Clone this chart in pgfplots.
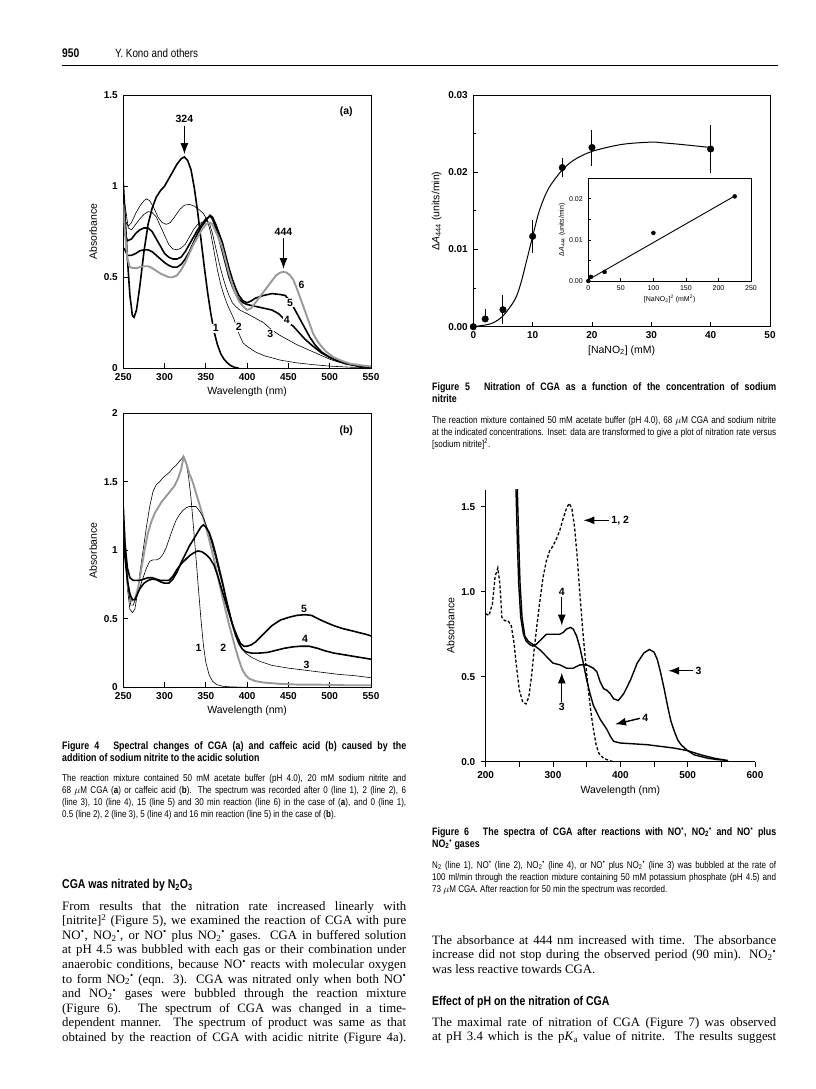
\documentclass[border=0pt]{standalone}
\usepackage{fontspec}
\setmainfont{Liberation Serif}
\newfontfamily\capfont[FakeStretch=0.82]{Liberation Sans}
\newfontfamily\chartfont{Liberation Sans}
\usepackage{pgfplots}
\pgfplotsset{compat=1.18}
\usetikzlibrary{arrows.meta}

\newcommand\rad{\textsuperscript{\kern0.03em•}}
\newcommand\NOt{NO\textsubscript{2}\textsuperscript{•}}
\newcommand\capT{\capfont\bfseries\fontsize{10.8}{12}\selectfont}
\newcommand\capR{\capfont\fontsize{9.8}{11}\selectfont}
\newcommand\bodyF{\rmfamily\fontsize{12.8}{14.6}\selectfont}
\newcommand\headF{\capfont\bfseries\fontsize{12.8}{14}\selectfont}
\newcommand\jl[4]{\node[anchor=base west,inner sep=0pt,font=#1] at (#2pt,-#3pt) {\makebox[344pt][s]{#4}};}
\newcommand\nl[4]{\node[anchor=base west,inner sep=0pt,font=#1] at (#2pt,-#3pt) {#4};}

\pgfplotsset{
  page/.style={scale only axis, tick pos=left, tick align=inside, major tick length=5pt,
    axis line style={line width=0.9pt}, every tick/.style={line width=0.9pt, black},
    tick label style={font=\chartfont\bfseries\fontsize{10}{12}\selectfont},
    xticklabel style={yshift=-1.5pt}, yticklabel style={xshift=-2pt},
    label style={font=\chartfont\fontsize{10.5}{12}\selectfont},
    /pgf/number format/assume math mode=true},
  thinL/.style={black, line width=0.6pt},
  thickL/.style={black, line width=1.6pt},
  grayL/.style={black!40, line width=1.9pt},
}
\tikzset{
  lab/.style={font=\chartfont\bfseries\fontsize{10.5}{12}\selectfont, fill=white, inner sep=1pt},
  labn/.style={font=\chartfont\bfseries\fontsize{10.5}{12}\selectfont, inner sep=1pt},
  arr/.style={line width=1.4pt, -{Latex[length=11pt,width=8pt]}},
}

\begin{document}
\begin{tikzpicture}
\path[fill=white, use as bounding box] (0pt,0pt) rectangle (816pt,-1089pt);

% ---------- header ----------
\nl{\capfont\bfseries\fontsize{12.5}{14}\selectfont}{62}{58}{950}
\nl{\capfont\fontsize{12}{14}\selectfont}{115}{58}{Y. Kono and others}
\draw[line width=0.8pt] (62pt,-65.5pt) -- (778pt,-65.5pt);

% ---------- Figure 4a ----------
\begin{axis}[page, at={(123.3pt,-368.3pt)}, anchor=south west, width=247.7pt, height=273.3pt,
  xmin=250, xmax=550, ymin=0, ymax=1.5, xtick={250,300,...,550}, ytick={0,0.5,1,1.5},
  xlabel={Wavelength (nm)}, ylabel={Absorbance}]
\addplot[thickL] coordinates {(250,1.02)(252,0.85)(255,0.6)(258,0.40)(261,0.29)(263,0.28)(266,0.32)(270,0.45)(275,0.64)(280,0.79)(285,0.88)(290,0.94)(295,0.975)(300,1.0)(305,1.04)(310,1.08)(315,1.12)(320,1.15)(324,1.16)(328,1.14)(332,1.09)(336,0.99)(340,0.86)(344,0.71)(348,0.56)(352,0.42)(356,0.30)(360,0.20)(364,0.13)(368,0.08)(372,0.05)(376,0.03)(380,0.015)(385,0.005)(390,0)};
\addplot[thinL] coordinates {(251,0.82)(256,0.78)(260,0.80)(265,0.85)(270,0.89)(275,0.92)(278,0.93)(282,0.92)(287,0.88)(292,0.83)(297,0.80)(302,0.79)(307,0.80)(312,0.83)(318,0.87)(324,0.895)(330,0.90)(336,0.89)(342,0.87)(347,0.85)(352,0.81)(356,0.74)(360,0.64)(364,0.54)(368,0.46)(372,0.40)(376,0.35)(380,0.31)(384,0.27)(390,0.19)(395,0.14)(400,0.12)(410,0.09)(420,0.07)(440,0.045)(460,0.03)(480,0.02)(500,0.012)(525,0.006)(550,0.003)};
\addplot[thinL] coordinates {(252,0.90)(256,0.77)(260,0.76)(265,0.79)(270,0.82)(275,0.845)(280,0.86)(285,0.855)(290,0.83)(295,0.78)(300,0.73)(305,0.68)(310,0.655)(315,0.65)(320,0.66)(325,0.68)(330,0.72)(335,0.76)(340,0.79)(345,0.80)(350,0.81)(354,0.80)(358,0.74)(362,0.66)(366,0.58)(370,0.51)(374,0.45)(378,0.40)(382,0.36)(386,0.34)(391,0.32)(400,0.30)(410,0.275)(420,0.25)(430,0.21)(440,0.18)(450,0.155)(460,0.13)(470,0.11)(480,0.09)(490,0.07)(500,0.05)(510,0.035)(520,0.025)(535,0.012)(550,0.006)};
\addplot[thickL] coordinates {(251,0.75)(255,0.70)(260,0.71)(265,0.74)(270,0.76)(275,0.77)(280,0.77)(285,0.75)(290,0.71)(295,0.67)(300,0.63)(305,0.61)(310,0.60)(315,0.60)(320,0.61)(325,0.64)(330,0.68)(335,0.72)(340,0.76)(345,0.79)(350,0.82)(355,0.835)(358,0.82)(362,0.77)(366,0.71)(370,0.64)(374,0.57)(378,0.50)(382,0.45)(386,0.41)(390,0.38)(395,0.36)(400,0.35)(410,0.34)(420,0.33)(430,0.32)(438,0.30)(445,0.27)(450,0.25)(456,0.23)(462,0.20)(470,0.16)(480,0.12)(490,0.085)(500,0.06)(510,0.04)(520,0.025)(535,0.012)(550,0.006)};
\addplot[thickL] coordinates {(251,0.66)(255,0.62)(260,0.62)(265,0.63)(270,0.645)(275,0.65)(280,0.65)(285,0.64)(290,0.62)(295,0.60)(300,0.58)(305,0.565)(310,0.555)(315,0.555)(320,0.57)(325,0.60)(330,0.64)(335,0.69)(340,0.74)(345,0.78)(350,0.81)(355,0.84)(358,0.83)(362,0.79)(366,0.74)(370,0.69)(374,0.62)(378,0.55)(382,0.49)(386,0.44)(390,0.40)(395,0.37)(400,0.36)(405,0.37)(410,0.385)(420,0.40)(430,0.41)(440,0.405)(446,0.40)(452,0.37)(458,0.32)(464,0.27)(470,0.22)(476,0.17)(482,0.13)(490,0.09)(500,0.06)(510,0.04)(520,0.025)(535,0.012)(550,0.006)};
\addplot[grayL] coordinates {(250,0.90)(252,0.75)(255,0.60)(258,0.555)(262,0.55)(266,0.55)(270,0.555)(275,0.56)(280,0.56)(285,0.55)(290,0.535)(295,0.52)(300,0.51)(305,0.50)(310,0.50)(315,0.51)(320,0.54)(325,0.58)(330,0.63)(335,0.68)(340,0.72)(345,0.76)(350,0.79)(355,0.80)(358,0.79)(362,0.75)(366,0.71)(370,0.66)(374,0.59)(378,0.52)(382,0.46)(386,0.41)(390,0.37)(395,0.34)(400,0.32)(405,0.33)(410,0.36)(415,0.39)(420,0.42)(425,0.45)(430,0.48)(435,0.51)(440,0.525)(444,0.53)(448,0.525)(452,0.51)(456,0.485)(460,0.44)(464,0.39)(468,0.34)(472,0.29)(476,0.24)(480,0.19)(485,0.15)(490,0.12)(496,0.09)(505,0.06)(515,0.04)(525,0.025)(540,0.015)(550,0.01)};
\node[lab] at (axis cs:362,0.22) {1};
\node[lab] at (axis cs:390,0.225) {2};
\node[lab] at (axis cs:428,0.19) {3};
\node[lab] at (axis cs:448,0.265) {4};
\node[lab] at (axis cs:452,0.36) {5};
\node[labn] at (axis cs:466,0.46) {6};
\node[labn] at (axis cs:324,1.37) {324};
\draw[arr] (axis cs:324,1.33) -- (axis cs:324,1.175);
\node[labn] at (axis cs:444,0.75) {444};
\draw[arr] (axis cs:444,0.715) -- (axis cs:444,0.545);
\node[labn] at (axis cs:520,1.41) {(a)};
\end{axis}

% ---------- Figure 4b ----------
\begin{axis}[page, at={(123.3pt,-687.3pt)}, anchor=south west, width=247.7pt, height=274pt,
  xmin=250, xmax=550, ymin=0, ymax=2, xtick={250,300,...,550}, ytick={0,0.5,1,1.5,2},
  xlabel={Wavelength (nm)}, ylabel={Absorbance}]
\addplot[thinL] coordinates {(250,1.29)(252,1.0)(255,0.72)(258,0.57)(261,0.545)(264,0.57)(267,0.68)(270,0.83)(274,1.0)(278,1.17)(282,1.32)(286,1.43)(290,1.48)(294,1.50)(298,1.53)(302,1.55)(306,1.57)(310,1.60)(314,1.62)(318,1.65)(321,1.67)(323,1.69)(326,1.64)(329,1.54)(332,1.38)(335,1.17)(338,0.95)(341,0.72)(344,0.50)(347,0.31)(350,0.18)(354,0.09)(358,0.045)(363,0.02)(370,0.008)(380,0.003)(400,0)(550,0)};
\addplot[grayL] coordinates {(250,1.25)(253,0.95)(256,0.72)(260,0.63)(264,0.64)(268,0.73)(272,0.87)(276,1.01)(280,1.13)(284,1.21)(288,1.27)(292,1.31)(296,1.35)(300,1.38)(304,1.41)(308,1.44)(312,1.47)(316,1.52)(320,1.59)(323,1.68)(326,1.64)(330,1.56)(334,1.50)(338,1.42)(342,1.34)(346,1.26)(350,1.17)(354,1.08)(358,0.98)(362,0.88)(366,0.77)(370,0.66)(374,0.56)(378,0.46)(382,0.37)(386,0.28)(390,0.20)(394,0.13)(398,0.09)(402,0.065)(410,0.045)(420,0.035)(440,0.025)(460,0.02)(480,0.02)(500,0.018)(520,0.015)(550,0.015)};
\addplot[thinL] coordinates {(250,1.22)(253,0.95)(256,0.72)(259,0.60)(262,0.60)(266,0.66)(270,0.73)(274,0.80)(278,0.87)(282,0.92)(286,0.93)(290,0.93)(294,0.94)(298,0.97)(302,1.02)(306,1.09)(310,1.16)(314,1.22)(318,1.26)(322,1.29)(326,1.31)(330,1.32)(334,1.32)(338,1.32)(342,1.29)(346,1.25)(350,1.19)(354,1.12)(358,1.03)(362,0.94)(366,0.84)(370,0.75)(374,0.65)(378,0.56)(382,0.47)(386,0.39)(390,0.33)(394,0.28)(398,0.25)(405,0.22)(415,0.19)(430,0.16)(450,0.14)(470,0.125)(490,0.11)(510,0.095)(530,0.085)(550,0.07)};
\addplot[thickL] coordinates {(250,1.17)(252,0.95)(255,0.78)(258,0.68)(261,0.64)(264,0.64)(267,0.68)(270,0.72)(275,0.76)(280,0.78)(285,0.79)(290,0.785)(295,0.77)(300,0.76)(305,0.76)(310,0.79)(315,0.84)(320,0.91)(325,0.97)(330,1.03)(335,1.08)(340,1.13)(344,1.17)(347,1.185)(350,1.17)(354,1.13)(358,1.06)(362,0.97)(366,0.87)(370,0.77)(374,0.66)(378,0.56)(382,0.46)(386,0.38)(390,0.32)(394,0.28)(398,0.26)(405,0.25)(415,0.25)(425,0.255)(435,0.27)(445,0.285)(455,0.295)(465,0.30)(475,0.30)(485,0.285)(495,0.265)(505,0.25)(515,0.24)(525,0.23)(540,0.215)(550,0.205)};
\addplot[thickL] coordinates {(250,1.32)(252,1.05)(255,0.87)(258,0.80)(262,0.78)(266,0.78)(270,0.78)(275,0.79)(280,0.80)(285,0.80)(290,0.79)(295,0.78)(300,0.78)(305,0.78)(310,0.81)(315,0.86)(320,0.90)(325,0.93)(330,0.96)(335,0.98)(340,0.995)(345,0.99)(350,0.97)(355,0.94)(360,0.89)(364,0.82)(368,0.74)(372,0.66)(376,0.58)(380,0.50)(384,0.43)(388,0.37)(392,0.32)(396,0.30)(400,0.30)(405,0.31)(410,0.33)(415,0.36)(420,0.39)(425,0.42)(430,0.45)(440,0.49)(450,0.51)(460,0.525)(470,0.53)(478,0.525)(486,0.50)(495,0.475)(505,0.45)(515,0.43)(525,0.415)(535,0.40)(545,0.385)(550,0.375)};
\node[labn] at (axis cs:341,0.29) {1};
\node[labn] at (axis cs:371,0.29) {2};
\node[labn] at (axis cs:472,0.165) {3};
\node[labn] at (axis cs:470,0.35) {4};
\node[labn] at (axis cs:469,0.575) {5};
\node[labn] at (axis cs:520,1.87) {(b)};
\end{axis}

% ---------- Figure 5 ----------
\begin{axis}[page, at={(473.3pt,-326.7pt)}, anchor=south west, width=296.7pt, height=231.7pt,
  xmin=0, xmax=50, ymin=0, ymax=0.03, xtick={0,10,...,50}, ytick={0,0.01,0.02,0.03},
  minor ytick={0.005,0.015,0.025},
  yticklabel style={/pgf/number format/.cd, fixed, fixed zerofill, precision=2},
  scaled y ticks=false,
  xlabel={[NaNO\textsubscript{2}] (mM)}, ylabel={Δ\textit{A}\textsubscript{444} (units/min)}]
\addplot[black, line width=1pt, smooth] coordinates {(0,0)(3,0.0004)(5,0.0014)(7,0.0035)(8,0.0056)(9,0.0086)(10,0.0117)(11,0.0147)(12,0.0168)(13,0.0183)(15,0.0203)(17,0.0216)(20,0.0227)(25,0.0236)(30,0.0239)(32,0.0238)(35,0.0236)(40,0.0232)};
\addplot[black, only marks, mark=*, mark size=3.3pt, error bars/.cd, y dir=both, y explicit,
  error mark options={black, mark size=3.5pt, line width=1pt}, error bar style={line width=1pt}]
  coordinates {(0,0) (2,0.001) += (0,0.0009) -= (0,0) (5,0.0022) += (0,0.0015) -= (0,0.0014)
  (10,0.0117) += (0,0.0016) -= (0,0.0017) (15,0.0206) += (0,0.0008) -= (0,0.0008)
  (20,0.0232) += (0,0.0018) -= (0,0.0019) (40,0.0230) += (0,0.0026) -= (0,0.0026)};
\end{axis}

% ---------- Figure 5 inset ----------
\begin{axis}[page, at={(588.3pt,-281pt)}, anchor=south west, width=162.7pt, height=102.7pt,
  axis background/.style={fill=white}, major tick length=3pt,
  axis line style={line width=0.7pt}, every tick/.style={line width=0.7pt, black},
  xmin=0, xmax=250, ymin=0, ymax=0.025, xtick={0,50,...,250}, ytick={0,0.01,0.02},
  minor ytick={0.005,0.015},
  tick label style={font=\chartfont\fontsize{7}{8}\selectfont},
  label style={font=\chartfont\fontsize{7}{8}\selectfont},
  yticklabel style={/pgf/number format/.cd, fixed, fixed zerofill, precision=2},
  scaled y ticks=false,
  xlabel={[NaNO\textsubscript{2}]\textsuperscript{2} (mM\textsuperscript{2})}, ylabel={Δ\textit{A}\textsubscript{444} (units/min)},
  xlabel style={yshift=3pt}, ylabel style={yshift=-3pt}]
\addplot[black, line width=0.9pt] coordinates {(0,0.0003)(225,0.0207)};
\addplot[black, only marks, mark=*, mark size=2pt] coordinates {(0,0)(4,0.001)(25,0.0022)(100,0.0117)(225,0.0206)};
\end{axis}

% ---------- Figure 6 ----------
\begin{axis}[page, at={(485.7pt,-761.7pt)}, anchor=south west, width=269.3pt, height=272pt,
  axis x line*=bottom, axis y line*=left, tick align=outside,
  xmin=200, xmax=600, ymin=0, ymax=1.6, xtick={200,300,...,600}, minor xtick={250,350,450,550},
  ytick={0,0.5,1,1.5}, minor tick length=5pt,
  yticklabel style={/pgf/number format/.cd, fixed, fixed zerofill, precision=1},
  xlabel={Wavelength (nm)}, ylabel={Absorbance}]
\addplot[black, line width=1.3pt, dash pattern=on 3pt off 2pt] coordinates {(200,0.87)(205,0.86)(210,0.93)(214,1.09)(218,1.14)(221,1.05)(224,0.85)(228,0.83)(233,0.83)(238,0.80)(242,0.70)(246,0.55)(250,0.42)(255,0.35)(260,0.34)(264,0.38)(268,0.50)(272,0.66)(276,0.80)(280,0.93)(285,1.08)(290,1.18)(295,1.24)(300,1.27)(305,1.31)(310,1.36)(315,1.43)(320,1.49)(324,1.52)(328,1.49)(332,1.38)(336,1.20)(340,0.98)(344,0.78)(348,0.60)(352,0.44)(356,0.30)(360,0.19)(364,0.10)(368,0.05)(375,0.02)(385,0.005)(390,0)};
\addplot[black, line width=1.4pt] coordinates {(246.5,1.8)(247,1.6)(249,1.3)(251,1.05)(254,0.85)(258,0.74)(263,0.71)(270,0.69)(280,0.66)(290,0.62)(300,0.58)(310,0.57)(320,0.55)(330,0.55)(335,0.56)(340,0.57)(350,0.57)(355,0.56)(360,0.55)(365,0.53)(370,0.47)(375,0.43)(380,0.42)(385,0.40)(390,0.37)(397,0.36)(405,0.40)(415,0.48)(425,0.58)(435,0.64)(443,0.66)(450,0.645)(455,0.60)(460,0.52)(465,0.43)(470,0.33)(475,0.24)(480,0.18)(485,0.13)(490,0.10)(500,0.065)(510,0.04)(520,0.03)(530,0.02)(545,0.012)(560,0.008)};
\addplot[black, line width=1.4pt] coordinates {(244.5,1.8)(245,1.6)(247,1.3)(249,1.05)(252,0.85)(256,0.75)(260,0.71)(265,0.69)(270,0.68)(275,0.69)(280,0.71)(285,0.73)(290,0.75)(300,0.75)(310,0.75)(315,0.76)(320,0.78)(326,0.79)(330,0.78)(335,0.74)(340,0.67)(345,0.58)(350,0.48)(355,0.40)(360,0.33)(365,0.29)(370,0.25)(375,0.22)(380,0.19)(385,0.15)(390,0.12)(400,0.11)(420,0.105)(440,0.10)(460,0.09)(480,0.08)(500,0.065)(520,0.04)(540,0.02)(555,0.01)};
\draw[arr] (axis cs:383,1.42) -- (axis cs:345,1.42);
\node[labn, anchor=west] at (axis cs:385,1.42) {1, 2};
\node[labn, anchor=south] at (axis cs:313,0.97) {4};
\draw[arr] (axis cs:313,0.97) -- (axis cs:313,0.80);
\draw[arr] (axis cs:313,0.35) -- (axis cs:313,0.525);
\node[labn, anchor=north] at (axis cs:313,0.35) {3};
\draw[arr] (axis cs:508,0.535) -- (axis cs:471,0.535);
\node[labn, anchor=west] at (axis cs:510,0.535) {3};
\draw[arr] (axis cs:429,0.255) -- (axis cs:392,0.22);
\node[labn, anchor=west] at (axis cs:431,0.26) {4};
\end{axis}

% ---------- captions and text, left column ----------
\jl{\capT}{62}{749}{Figure 4\hspace{1.3em}Spectral changes of CGA (a) and caffeic acid (b) caused by the}
\nl{\capT}{62}{761}{addition of sodium nitrite to the acidic solution}
\jl{\capR}{62}{781}{The reaction mixture contained 50 mM acetate buffer (pH 4.0), 20 mM sodium nitrite and}
\jl{\capR}{62}{793}{68 $\mu$M CGA (\textbf{a}) or caffeic acid (\textbf{b}). The spectrum was recorded after 0 (line 1), 2 (line 2), 6}
\jl{\capR}{62}{805}{(line 3), 10 (line 4), 15 (line 5) and 30 min reaction (line 6) in the case of (\textbf{a}), and 0 (line 1),}
\nl{\capR}{62}{817}{0.5 (line 2), 2 (line 3), 5 (line 4) and 16 min reaction (line 5) in the case of (\textbf{b}).}

\nl{\headF}{62}{888}{CGA was nitrated by N\textsubscript{2}O\textsubscript{3}}
\jl{\bodyF}{62}{910}{From results that the nitration rate increased linearly with}
\jl{\bodyF}{62}{924.6}{[nitrite]\textsuperscript{2} (Figure 5), we examined the reaction of CGA with pure}
\jl{\bodyF}{62}{939.2}{NO\rad, \NOt, or NO\rad{} plus \NOt{} gases. CGA in buffered solution}
\jl{\bodyF}{62}{953.8}{at pH 4.5 was bubbled with each gas or their combination under}
\jl{\bodyF}{62}{968.4}{anaerobic conditions, because NO\rad{} reacts with molecular oxygen}
\jl{\bodyF}{62}{983}{to form \NOt{} (eqn. 3). CGA was nitrated only when both NO\rad}
\jl{\bodyF}{62}{997.6}{and \NOt{} gases were bubbled through the reaction mixture}
\jl{\bodyF}{62}{1012.2}{(Figure 6). The spectrum of CGA was changed in a time-}
\jl{\bodyF}{62}{1026.8}{dependent manner. The spectrum of product was same as that}
\jl{\bodyF}{62}{1041.4}{obtained by the reaction of CGA with acidic nitrite (Figure 4a).}

% ---------- captions and text, right column ----------
\jl{\capT}{432}{390}{Figure 5\hspace{1.3em}Nitration of CGA as a function of the concentration of sodium}
\nl{\capT}{432}{402}{nitrite}
\jl{\capR}{432}{423}{The reaction mixture contained 50 mM acetate buffer (pH 4.0), 68 $\mu$M CGA and sodium nitrite}
\jl{\capR}{432}{435}{at the indicated concentrations. Inset: data are transformed to give a plot of nitration rate versus}
\nl{\capR}{432}{447}{[sodium nitrite]\textsuperscript{2}.}

\jl{\capT}{432}{835}{Figure 6\hspace{1.3em}The spectra of CGA after reactions with NO\rad, \NOt{} and NO\rad{} plus}
\nl{\capT}{432}{847}{\NOt{} gases}
\jl{\capR}{432}{868}{N\textsubscript{2} (line 1), NO\rad{} (line 2), \NOt{} (line 4), or NO\rad{} plus \NOt{} (line 3) was bubbled at the rate of}
\jl{\capR}{432}{880}{100 ml/min through the reaction mixture containing 50 mM potassium phosphate (pH 4.5) and}
\nl{\capR}{432}{892}{73 $\mu$M CGA. After reaction for 50 min the spectrum was recorded.}

\jl{\bodyF}{432}{944}{The absorbance at 444 nm increased with time. The absorbance}
\jl{\bodyF}{432}{958.6}{increase did not stop during the observed period (90 min). \NOt}
\nl{\bodyF}{432}{973.2}{was less reactive towards CGA.}
\nl{\headF}{432}{1005}{Effect of pH on the nitration of CGA}
\jl{\bodyF}{432}{1026}{The maximal rate of nitration of CGA (Figure 7) was observed}
\jl{\bodyF}{432}{1040.6}{at pH 3.4 which is the p\textit{K}\textsubscript{a} value of nitrite. The results suggest}
\end{tikzpicture}
\end{document}
